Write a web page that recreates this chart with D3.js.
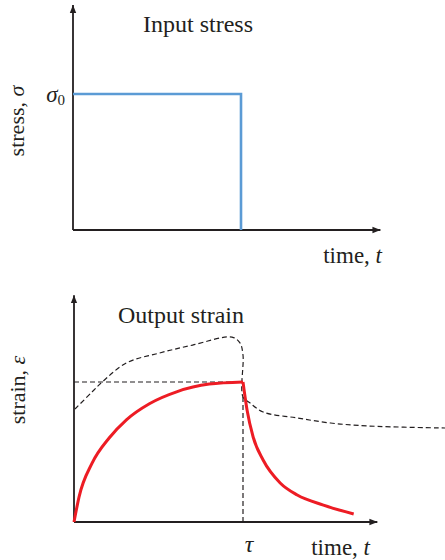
<!DOCTYPE html>
<html>
<head>
<meta charset="utf-8">
<script src="https://cdn.jsdelivr.net/npm/d3@7"></script>
<style>
  body { margin: 0; background: #fff; }
  svg text { font-family: "Liberation Serif", "Times New Roman", serif; fill: #231f20; }
</style>
</head>
<body>
<div id="chart"></div>
<script>
// data (time in units of tau, stress in units of sigma0, strain in units of plateau strain)
const stressT = [0, 1, 1];
const stressVal = [1, 1, 0];

const riseT = [0, 0.03, 0.107, 0.208, 0.31, 0.446, 0.607, 0.8, 1.0];
const riseStrain = [0, 0.18, 0.42, 0.6, 0.73, 0.845, 0.93, 0.985, 1.0];

const decayT = [1.0, 1.024, 1.06, 1.119, 1.22, 1.321, 1.476, 1.655];
const decayStrain = [1.0, 0.8, 0.607, 0.443, 0.279, 0.193, 0.121, 0.057];

// dashed curve (goes straight down at tau, so kept as ordered pairs)
const dashT = [0.006, 0.107, 0.167, 0.31, 0.506, 0.702, 0.935, 0.982, 1.0, 1.0, 1.042, 1.119, 1.321, 1.518, 1.738, 2.21];
const dashStrain = [0.807, 0.929, 1.0, 1.136, 1.207, 1.264, 1.321, 1.279, 1.193, 0.893, 0.85, 0.786, 0.743, 0.707, 0.686, 0.671];

const plateau = 1;
const tau = 1;

const width = 445;
const height = 560;

const svg = d3.select("#chart")
  .append("svg")
  .attr("width", width)
  .attr("height", height);

const ink = "#231f20";

svg.append("defs").append("marker")
  .attr("id", "arrow")
  .attr("viewBox", "0 0 10 10")
  .attr("refX", 10)
  .attr("refY", 5)
  .attr("markerWidth", 8)
  .attr("markerHeight", 8)
  .attr("markerUnits", "userSpaceOnUse")
  .attr("orient", "auto")
  .append("path")
  .attr("d", "M0,1 L10,5 L0,9 Z")
  .attr("fill", ink);

// ---- top panel: input stress ----
const xTop = d3.scaleLinear().domain([0, 1]).range([73, 241]);
const yTop = d3.scaleLinear().domain([0, 1]).range([230, 94]);

const topPanel = svg.append("g");

topPanel.append("line")
  .attr("x1", xTop(0)).attr("y1", yTop(0))
  .attr("x2", xTop(0)).attr("y2", yTop(1.655))
  .attr("stroke", ink).attr("stroke-width", 1.8)
  .attr("marker-end", "url(#arrow)");

topPanel.append("line")
  .attr("x1", xTop(0)).attr("y1", yTop(0))
  .attr("x2", xTop(1.83)).attr("y2", yTop(0))
  .attr("stroke", ink).attr("stroke-width", 1.8)
  .attr("marker-end", "url(#arrow)");

const stressLine = d3.line()
  .x((d, i) => xTop(stressT[i]))
  .y(d => yTop(d));

topPanel.append("path")
  .attr("d", stressLine(stressVal))
  .attr("fill", "none")
  .attr("stroke", "#5b9bd5")
  .attr("stroke-width", 2.6);

topPanel.append("text")
  .attr("x", 143).attr("y", 32)
  .attr("font-size", "24px")
  .text("Input stress");

const sig0 = topPanel.append("text")
  .attr("x", 65).attr("y", yTop(1) + 8)
  .attr("text-anchor", "end")
  .attr("font-size", "23px");
sig0.append("tspan").attr("font-style", "italic").text("σ");
sig0.append("tspan").attr("font-size", "15px").attr("dy", 3).text("0");

const stressLab = topPanel.append("text")
  .attr("transform", "translate(24,121) rotate(-90)")
  .attr("text-anchor", "middle")
  .attr("font-size", "22px");
stressLab.append("tspan").text("stress, ");
stressLab.append("tspan").attr("font-style", "italic").text("σ");

const timeTop = topPanel.append("text")
  .attr("x", 382).attr("y", 263)
  .attr("text-anchor", "end")
  .attr("font-size", "23px");
timeTop.append("tspan").text("time, ");
timeTop.append("tspan").attr("font-style", "italic").text("t");

// ---- bottom panel: output strain ----
const xBot = d3.scaleLinear().domain([0, 1]).range([74, 243]);
const yBot = d3.scaleLinear().domain([0, 1]).range([522, 382]);

const bot = svg.append("g");

bot.append("line")
  .attr("x1", xBot(0)).attr("y1", yBot(0))
  .attr("x2", xBot(0)).attr("y2", yBot(1.62))
  .attr("stroke", ink).attr("stroke-width", 1.8)
  .attr("marker-end", "url(#arrow)");

bot.append("line")
  .attr("x1", xBot(0)).attr("y1", yBot(0))
  .attr("x2", xBot(1.795)).attr("y2", yBot(0))
  .attr("stroke", ink).attr("stroke-width", 1.8)
  .attr("marker-end", "url(#arrow)");

// dashed guides
bot.append("line")
  .attr("x1", xBot(0)).attr("y1", yBot(plateau))
  .attr("x2", xBot(tau)).attr("y2", yBot(plateau))
  .attr("stroke", ink).attr("stroke-width", 1.2)
  .attr("stroke-dasharray", "5,3");

bot.append("line")
  .attr("x1", xBot(tau)).attr("y1", yBot(0))
  .attr("x2", xBot(tau)).attr("y2", yBot(0.9))
  .attr("stroke", ink).attr("stroke-width", 1.2)
  .attr("stroke-dasharray", "5,3");

const dashLine = d3.line()
  .x((d, i) => xBot(dashT[i]))
  .y(d => yBot(d))
  .curve(d3.curveCatmullRom.alpha(0.5));

bot.append("path")
  .attr("d", dashLine(dashStrain))
  .attr("fill", "none")
  .attr("stroke", ink)
  .attr("stroke-width", 1.2)
  .attr("stroke-dasharray", "5,3");

const riseLine = d3.line()
  .x((d, i) => xBot(riseT[i]))
  .y(d => yBot(d))
  .curve(d3.curveMonotoneX);

const decayLine = d3.line()
  .x((d, i) => xBot(decayT[i]))
  .y(d => yBot(d))
  .curve(d3.curveMonotoneX);

bot.append("path")
  .attr("d", riseLine(riseStrain))
  .attr("fill", "none")
  .attr("stroke", "#ed1c24")
  .attr("stroke-width", 3);

bot.append("path")
  .attr("d", decayLine(decayStrain))
  .attr("fill", "none")
  .attr("stroke", "#ed1c24")
  .attr("stroke-width", 3);

bot.append("text")
  .attr("x", 118).attr("y", 323)
  .attr("font-size", "24px")
  .text("Output strain");

const strainLab = bot.append("text")
  .attr("transform", "translate(25,390) rotate(-90)")
  .attr("text-anchor", "middle")
  .attr("font-size", "22px");
strainLab.append("tspan").text("strain, ");
strainLab.append("tspan").attr("font-style", "italic").text("ε");

bot.append("text")
  .attr("x", xBot(tau) + 6).attr("y", 552)
  .attr("text-anchor", "middle")
  .attr("font-size", "24px")
  .attr("font-style", "italic")
  .text("τ");

const timeBot = bot.append("text")
  .attr("x", 370).attr("y", 555)
  .attr("text-anchor", "end")
  .attr("font-size", "23px");
timeBot.append("tspan").text("time, ");
timeBot.append("tspan").attr("font-style", "italic").text("t");
</script>
</body>
</html>
